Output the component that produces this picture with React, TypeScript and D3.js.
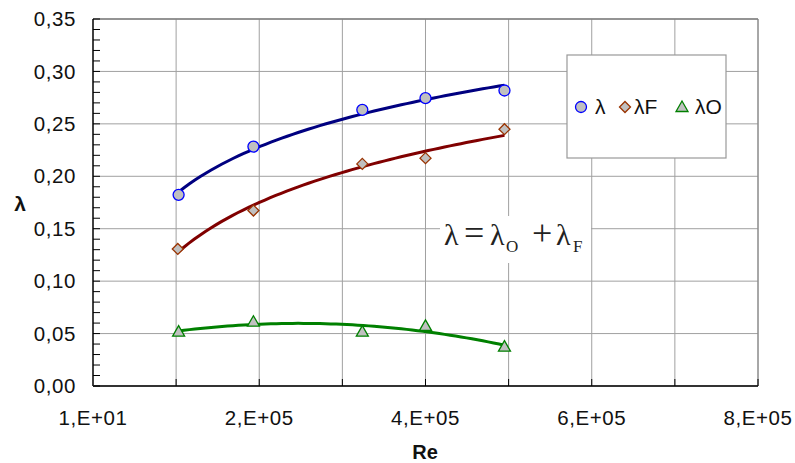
import * as d3 from "d3";

const reValues = [1.03e5, 1.93e5, 3.24e5, 4.0e5, 4.95e5];
const lambdaTotal = [0.1823, 0.2283, 0.2634, 0.2745, 0.2818];
const lambdaF = [0.1307, 0.1673, 0.2118, 0.2173, 0.2449];
const lambdaO = [0.0518, 0.0613, 0.0518, 0.0573, 0.0375];
const reFirst = [1.02e5, 1.93e5, 3.24e5, 4.0e5, 4.95e5];

const xTicks = [10, 2e5, 4e5, 6e5, 8e5];
const xTickLabels = ["1,E+01", "2,E+05", "4,E+05", "6,E+05", "8,E+05"];
const xGrid = [1e5, 2e5, 3e5, 4e5, 5e5, 6e5, 7e5, 8e5];
const yTicks = [0, 0.05, 0.1, 0.15, 0.2, 0.25, 0.3, 0.35];

const W = 795;
const H = 463;
const margin = { left: 93, right: 37, top: 19, bottom: 77 };

const x = d3.scaleLinear().domain([10, 8e5]).range([margin.left, W - margin.right]);
const y = d3.scaleLinear().domain([0, 0.35]).range([H - margin.bottom, margin.top]);

// log trend line (least squares on ln x)
function logFit(xs: number[], ys: number[]) {
  const lx = xs.map((v) => Math.log(v));
  const mx = d3.mean(lx)!;
  const my = d3.mean(ys)!;
  let sxy = 0;
  let sxx = 0;
  lx.forEach((v, i) => {
    sxy += (v - mx) * (ys[i] - my);
    sxx += (v - mx) * (v - mx);
  });
  const b = sxy / sxx;
  const a = my - b * mx;
  return (v: number) => a + b * Math.log(v);
}

// quadratic trend line
function polyFit(xs: number[], ys: number[]) {
  const s = xs.map((v) => v / 1e5);
  const S = (p: number) => d3.sum(s, (v) => Math.pow(v, p));
  const T = (p: number) => d3.sum(s, (v, i) => Math.pow(v, p) * ys[i]);
  const m = [
    [S(0), S(1), S(2), T(0)],
    [S(1), S(2), S(3), T(1)],
    [S(2), S(3), S(4), T(2)],
  ];
  for (let i = 0; i < 3; i++) {
    for (let j = i + 1; j < 3; j++) {
      const f = m[j][i] / m[i][i];
      for (let k = i; k < 4; k++) m[j][k] -= f * m[i][k];
    }
  }
  const c = [0, 0, 0];
  for (let i = 2; i >= 0; i--) {
    let sum = m[i][3];
    for (let k = i + 1; k < 3; k++) sum -= m[i][k] * c[k];
    c[i] = sum / m[i][i];
  }
  return (v: number) => {
    const t = v / 1e5;
    return c[0] + c[1] * t + c[2] * t * t;
  };
}

function curve(fn: (v: number) => number, x0: number, x1: number) {
  const pts: [number, number][] = d3.range(0, 61).map((i) => {
    const v = x0 + ((x1 - x0) * i) / 60;
    return [x(v), y(fn(v))];
  });
  return d3.line()(pts) || "";
}

const sans = "'Liberation Sans', Arial, sans-serif";
const serif = "'Liberation Serif', 'Times New Roman', serif";

const circleMark = (cx: number, cy: number, key?: any) => (
  <circle key={key} cx={cx} cy={cy} r={5.5} fill="#c0c0c0" stroke="#0000ff" strokeWidth={1.3} />
);
const diamondMark = (cx: number, cy: number, key?: any) => (
  <path
    key={key}
    d={`M${cx},${cy - 5.5}L${cx + 5.5},${cy}L${cx},${cy + 5.5}L${cx - 5.5},${cy}Z`}
    fill="#c0c0c0"
    stroke="#993300"
    strokeWidth={1.3}
  />
);
const triMark = (cx: number, cy: number, key?: any) => (
  <path
    key={key}
    d={`M${cx},${cy - 6}L${cx + 6},${cy + 4.5}L${cx - 6},${cy + 4.5}Z`}
    fill="#c0c0c0"
    stroke="#008000"
    strokeWidth={1.3}
  />
);

export default function App() {
  const x0 = x.range()[0];
  const x1 = x.range()[1];
  const yb = y(0);
  const yt = y(0.35);
  const fitL = logFit(reValues, lambdaTotal);
  const fitF = logFit(reFirst, lambdaF);
  const fitO = polyFit(reValues, lambdaO);
  const tickFont = { fontFamily: sans, fontSize: 20.5, letterSpacing: 0.6, fill: "#111" };

  return (
    <svg width={W} height={H} style={{ position: "absolute", left: 0, top: 0, background: "#fff" }}>
      {/* grid */}
      {xGrid.map((v) => (
        <line key={"gx" + v} x1={x(v)} x2={x(v)} y1={yt} y2={yb} stroke="#a0a0a0" strokeWidth={1} />
      ))}
      {yTicks.slice(1).map((v) => (
        <line key={"gy" + v} x1={x0} x2={x1} y1={y(v)} y2={y(v)} stroke="#a0a0a0" strokeWidth={1} />
      ))}
      <line x1={x1} x2={x1} y1={yt} y2={yb} stroke="#808080" strokeWidth={1} />
      <line x1={x0} x2={x1} y1={yt} y2={yt} stroke="#808080" strokeWidth={1.5} />

      {/* equation */}
      <rect x={440} y={216} width={151} height={47} fill="#fff" />
      <g fontFamily={serif} fill="#222">
        <text x={444} y={245} fontSize={30}>λ</text>
        <text x={464} y={245} fontSize={36}>=</text>
        <text x={490} y={245} fontSize={30}>λ</text>
        <text x={506} y={252} fontSize={17}>O</text>
        <text x={532} y={245} fontSize={36}>+</text>
        <text x={556} y={245} fontSize={30}>λ</text>
        <text x={573} y={252} fontSize={17}>F</text>
      </g>

      {/* axes */}
      <line x1={x0} x2={x0} y1={yt} y2={yb} stroke="#000" strokeWidth={1.5} />
      <line x1={x0} x2={x1} y1={yb} y2={yb} stroke="#333" strokeWidth={2} />
      {d3.range(0, 36).map((i) => (
        <line key={"ty" + i} x1={x0} x2={x0 + 7} y1={y(i / 100)} y2={y(i / 100)} stroke="#000" strokeWidth={1} />
      ))}
      {xGrid.map((v) => (
        <line key={"tx" + v} x1={x(v)} x2={x(v)} y1={yb} y2={yb - 7} stroke="#000" strokeWidth={1} />
      ))}
      {yTicks.map((v) => (
        <text key={"ly" + v} x={76} y={y(v)} dy="0.35em" textAnchor="end" {...tickFont}>
          {d3.format(".2f")(v).replace(".", ",")}
        </text>
      ))}
      {xTicks.map((v, i) => (
        <text key={"lx" + v} x={x(v)} y={425} textAnchor="middle" {...tickFont}>
          {xTickLabels[i]}
        </text>
      ))}
      <text x={425} y={459} textAnchor="middle" fontFamily={sans} fontSize={20} fontWeight="bold" fill="#111">
        Re
      </text>
      <text x={20} y={211} textAnchor="middle" fontFamily={sans} fontSize={21} fontWeight="bold" fill="#111">
        λ
      </text>

      {/* trend lines */}
      <path d={curve(fitL, reValues[0], reValues[4])} fill="none" stroke="#000080" strokeWidth={3} />
      <path d={curve(fitF, reFirst[0], reFirst[4])} fill="none" stroke="#800000" strokeWidth={3} />
      <path d={curve(fitO, reValues[0], reValues[4])} fill="none" stroke="#008000" strokeWidth={3} />

      {/* markers */}
      {reValues.map((v, i) => circleMark(x(v), y(lambdaTotal[i]), "c" + i))}
      {reFirst.map((v, i) => diamondMark(x(v), y(lambdaF[i]), "d" + i))}
      {reValues.map((v, i) => triMark(x(v), y(lambdaO[i]), "t" + i))}

      {/* legend */}
      <rect x={567} y={55} width={159} height={103} fill="#fff" stroke="#999" strokeWidth={1.2} />
      {circleMark(581, 107)}
      <text x={595} y={107} dy="0.35em" fontFamily={sans} fontSize={21} fill="#111">λ</text>
      {diamondMark(625, 107)}
      <text x={634} y={107} dy="0.35em" fontFamily={sans} fontSize={21} fill="#111">λF</text>
      {triMark(682, 107)}
      <text x={695} y={107} dy="0.35em" fontFamily={sans} fontSize={21} fill="#111">λO</text>
    </svg>
  );
}
